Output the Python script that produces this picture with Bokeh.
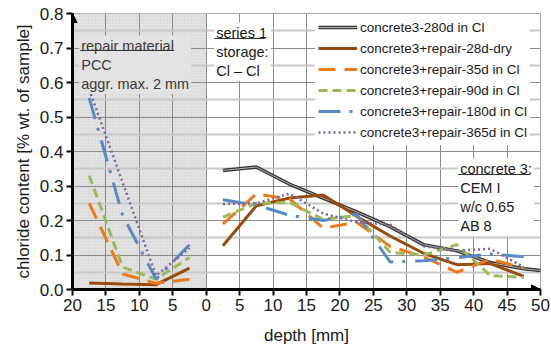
from bokeh.plotting import figure
from bokeh.models import (Range1d, FixedTicker, NumeralTickFormatter, CustomJSTickFormatter,
                          Legend, LegendItem, Label, Arrow, NormalHead)
from bokeh.embed import file_html
from bokeh.resources import INLINE

# ---------------- data ----------------
# repair material zone (depth measured to the left of 0)
repair_depth = [17.5, 12.5, 7.5, 2.5]
rep_28d_dry = [0.019, 0.016, 0.014, 0.062]
rep_35d = [0.25, 0.045, 0.018, 0.03]
rep_90d = [0.33, 0.065, 0.03, 0.093]
rep_180d = [0.555, 0.215, 0.03, 0.13]
rep_365d = [0.58, 0.31, 0.04, 0.12]

# concrete zone
conc_depth = [2.5, 7.5, 12.5, 17.5, 22.5, 27.5, 32.5, 37.5, 42.5, 47.5]
c280_depth = [2.5, 7.5, 12.5, 17.5, 22.5, 27.5, 32.5, 37.5, 42.5, 47.5, 52.5]
c280 = [0.345, 0.355, 0.305, 0.265, 0.225, 0.182, 0.13, 0.112, 0.078, 0.06, 0.05]
c28_dry = [0.127, 0.243, 0.265, 0.274, 0.212, 0.155, 0.105, 0.072, 0.075, 0.038]
c35 = [0.19, 0.277, 0.262, 0.178, 0.195, 0.125, 0.095, 0.05, 0.088, 0.062]
c90 = [0.21, 0.25, 0.252, 0.203, 0.215, 0.108, 0.1, 0.13, 0.04, 0.035]
c180 = [0.26, 0.245, 0.215, 0.2, 0.218, 0.08, 0.083, 0.092, 0.103, 0.095]
c365 = [0.248, 0.25, 0.278, 0.22, 0.195, 0.188, 0.125, 0.112, 0.118, 0.065]

legend_labels = ["concrete3-280d in Cl", "concrete3+repair-28d-dry",
                 "concrete3+repair-35d in Cl", "concrete3+repair-90d in Cl",
                 "concrete3+repair-180d in Cl", "concrete3+repair-365d in Cl"]
x_ticks = [-20, -15, -10, -5, 0, 5, 10, 15, 20, 25, 30, 35, 40, 45, 50]
y_ticks = [0.0, 0.1, 0.2, 0.3, 0.4, 0.5, 0.6, 0.7, 0.8]
y_minor = [0.05, 0.15, 0.25, 0.35, 0.45, 0.55, 0.65, 0.75]
repair_zone = [-20, 0]

FONT = "Liberation Sans"

p = figure(width=551, height=349, x_range=Range1d(-20, 50), y_range=Range1d(0, 0.8),
           output_backend="svg", toolbar_location=None,
           min_border_left=72, min_border_right=11, min_border_top=13, min_border_bottom=60)
p.background_fill_color = "white"
p.outline_line_color = "#a6a6a6"

# gray repair zone
p.quad(left=[repair_zone[0]], right=[repair_zone[1]], bottom=[0], top=[0.8],
       fill_color="#e3e3e3", line_color=None, hatch_pattern="dot", hatch_color="#d0d0d0",
       hatch_scale=3, hatch_weight=1, level="image")

# grid
p.xgrid.ticker = FixedTicker(ticks=x_ticks)
p.ygrid.ticker = FixedTicker(ticks=y_ticks, minor_ticks=y_minor)
p.xgrid.grid_line_color = "#8c8c8c"
p.ygrid.grid_line_color = "#8c8c8c"
p.ygrid.minor_grid_line_color = "#c8c8c8"
p.ygrid.minor_grid_line_width = 2

# axes
p.xaxis.ticker = FixedTicker(ticks=x_ticks)
p.xaxis.formatter = CustomJSTickFormatter(code="return Math.abs(tick).toString();")
p.yaxis.ticker = FixedTicker(ticks=y_ticks)
p.yaxis.formatter = NumeralTickFormatter(format="0.0")
for ax in (p.xaxis[0], p.yaxis[0]):
    ax.axis_line_width = 3
    ax.axis_line_color = "black"
    ax.major_tick_line_width = 2
    ax.major_tick_line_color = "black"
    ax.major_tick_out = 6
    ax.major_tick_in = 0
    ax.minor_tick_line_color = None
    ax.major_label_text_font = FONT
    ax.major_label_text_font_size = "17px"
    ax.major_label_text_color = "#1a1a1a"
    ax.axis_label_text_font = FONT
    ax.axis_label_text_font_size = "17px"
    ax.axis_label_text_font_style = "normal"
    ax.axis_label_text_color = "#1a1a1a"
p.xaxis.axis_label = "depth [mm]"
p.yaxis.axis_label = "chloride content [% wt. of sample]"
p.xaxis.major_label_standoff = 3
p.xaxis.axis_label_standoff = 12
p.yaxis.major_label_standoff = 3
p.yaxis.axis_label_standoff = 4

p.add_layout(Arrow(end=NormalHead(size=9, fill_color="black", line_color="black"),
                   x_start=-20, y_start=0, x_end=-20, y_end=0.8, line_width=3, line_color="black"))
p.add_layout(Arrow(end=NormalHead(size=9, fill_color="black", line_color="black"),
                   x_start=-20, y_start=0, x_end=50, y_end=0, line_width=3, line_color="black"))

# colours / styles
BROWN, ORANGE, GREEN, BLUE, PURPLE = "#9a4a0c", "#ec7a1c", "#9bbb59", "#5a8ac6", "#7f64a0"
rx = [-d for d in repair_depth]

r_black_o = p.line(c280_depth, c280, line_color="#333333", line_width=3.5)
r_black_i = p.line(c280_depth, c280, line_color="#b5b5b5", line_width=1)

styles = [
    (rep_28d_dry, c28_dry, dict(line_color=BROWN, line_width=3)),
    (rep_35d, c35, dict(line_color=ORANGE, line_width=3, line_dash="17 9")),
    (rep_90d, c90, dict(line_color=GREEN, line_width=3, line_dash="9 5")),
    (rep_180d, c180, dict(line_color=BLUE, line_width=3, line_dash="22 9 3 10")),
    (rep_365d, c365, dict(line_color=PURPLE, line_width=2.5, line_dash="2 3")),
]
series_r = []
for rv, cv, st in styles:
    p.line(rx, rv, **st)
    series_r.append(p.line(conc_depth, cv, **st))

items = [LegendItem(label=legend_labels[0], renderers=[r_black_o, r_black_i])]
for lab, r in zip(legend_labels[1:], series_r):
    items.append(LegendItem(label=lab, renderers=[r]))
legend = Legend(items=items, location=(243, 144), glyph_width=39, glyph_height=20,
                label_height=20, spacing=1, padding=3, margin=0, label_standoff=3,
                label_text_font=FONT, label_text_font_size="13.5px", label_text_color="#1a1a1a",
                background_fill_color="white", background_fill_alpha=1, border_line_alpha=0)
p.add_layout(legend, "center")

# helpers: image pixel -> data (positions of annotations only)
def X(px):
    return (px - 205) / (468 / 70)

def Y(py):
    return (289 - py) / (276 / 0.8)

TXT = "#3a3a3a"
p.add_layout(Label(x=X(78), y=Y(35), text="repair material\nPCC\naggr. max. 2 mm",
                   text_font=FONT, text_font_size="14.5px", text_color=TXT,
                   text_align="left", text_baseline="top",
                   background_fill_color="#e3e3e3", padding=2))
p.add_layout(Label(x=X(213), y=Y(22), text="series 1\nstorage:\nCl – Cl",
                   text_font=FONT, text_font_size="14.5px", text_color="#1a1a1a",
                   text_align="left", text_baseline="top",
                   background_fill_color="white", padding=2))
p.add_layout(Label(x=X(457), y=Y(158), text="concrete 3:\nCEM I\nw/c 0.65\nAB 8",
                   text_font=FONT, text_font_size="14.5px", text_color="#1a1a1a",
                   text_align="left", text_baseline="top",
                   background_fill_color="white", padding=2))
p.segment(x0=[X(79), X(213), X(457)], y0=[Y(50), Y(38), Y(174)],
          x1=[X(173), X(264), X(529)], y1=[Y(50), Y(38), Y(174)],
          line_color="#333333", line_width=1, level="overlay")
p.add_layout(Label(x=X(487), y=Y(23), text="1)", text_font=FONT, text_font_size="10px",
                   text_color="#1a1a1a", text_align="left", text_baseline="middle"))
p.add_layout(Label(x=X(5), y=Y(336), text="1)", text_font=FONT, text_font_size="10px",
                   text_color="#1a1a1a", text_align="left", text_baseline="top"))

open("out.html", "w").write(file_html(p, INLINE))
